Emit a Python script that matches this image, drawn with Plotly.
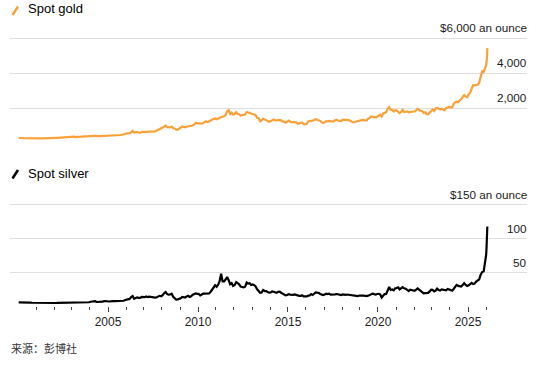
import plotly.graph_objects as go

# ---------------- data ----------------
years = list(range(2000, 2026))

gold_monthly = [
    285, 300, 287, 280, 275, 285, 282, 275, 273, 270, 266, 272,      # 2000
    266, 262, 263, 261, 272, 270, 268, 273, 283, 283, 276, 276,      # 2001
    282, 296, 294, 302, 314, 321, 313, 310, 319, 317, 319, 333,      # 2002
    357, 359, 341, 328, 355, 356, 351, 360, 379, 379, 389, 407,      # 2003
    414, 405, 406, 404, 384, 392, 398, 400, 406, 420, 439, 442,      # 2004
    424, 423, 434, 429, 422, 431, 424, 438, 456, 470, 476, 510,      # 2005
    549, 555, 557, 610, 690, 596, 633, 632, 598, 586, 627, 629,      # 2006
    631, 665, 655, 679, 667, 655, 665, 665, 712, 754, 806, 803,      # 2007
    889, 940, 990, 909, 888, 889, 939, 839, 829, 760, 760, 816,      # 2008
    858, 943, 924, 890, 928, 945, 934, 949, 996, 1043, 1150, 1134,   # 2009
    1118, 1095, 1113, 1148, 1205, 1240, 1193, 1215, 1280, 1343, 1380, 1400,  # 2010
    1360, 1374, 1424, 1490, 1510, 1529, 1600, 1820, 1880, 1665, 1739, 1620,  # 2011
    1656, 1760, 1675, 1649, 1570, 1598, 1594, 1630, 1770, 1750, 1722, 1685,  # 2012
    1671, 1627, 1593, 1440, 1414, 1250, 1300, 1380, 1349, 1316, 1275, 1210,  # 2013
    1244, 1320, 1340, 1299, 1288, 1310, 1320, 1296, 1220, 1222, 1160, 1200,  # 2014
    1280, 1227, 1179, 1198, 1199, 1182, 1100, 1130, 1125, 1170, 1070, 1060,  # 2015
    1097, 1230, 1246, 1270, 1260, 1300, 1360, 1341, 1326, 1267, 1180, 1140,  # 2016
    1192, 1250, 1231, 1266, 1246, 1260, 1236, 1300, 1330, 1280, 1283, 1255,  # 2017
    1340, 1331, 1325, 1334, 1303, 1270, 1230, 1180, 1198, 1215, 1221, 1270,  # 2018
    1291, 1320, 1300, 1280, 1284, 1390, 1420, 1520, 1500, 1495, 1465, 1500,  # 2019
    1570, 1620, 1520, 1690, 1720, 1760, 1950, 2050, 1900, 1890, 1800, 1870,  # 2020
    1860, 1750, 1710, 1770, 1900, 1770, 1810, 1810, 1750, 1780, 1790, 1800,  # 2021
    1800, 1900, 1950, 1900, 1840, 1830, 1720, 1760, 1650, 1640, 1750, 1810,  # 2022
    1920, 1830, 1970, 2000, 1960, 1920, 1960, 1910, 1870, 1990, 2030, 2060,  # 2023
    2030, 2030, 2230, 2330, 2350, 2330, 2430, 2500, 2640, 2740, 2650, 2620,  # 2024
    2780, 2880, 3100, 3300, 3290, 3310, 3330, 3440, 3820, 4100, 4080, 4250,  # 2025
]
gold_tail_dates = ["2026-01-05", "2026-01-12", "2026-01-20", "2026-01-23", "2026-01-28"]
gold_tail = [4450, 4600, 4780, 4980, 5420]

silver_monthly = [
    5.2, 5.3, 5.1, 5.0, 5.0, 5.0, 5.0, 4.9, 4.9, 4.8, 4.7, 4.6,      # 2000
    4.7, 4.5, 4.4, 4.4, 4.4, 4.4, 4.3, 4.2, 4.3, 4.3, 4.2, 4.5,      # 2001
    4.5, 4.4, 4.6, 4.6, 4.9, 4.9, 4.9, 4.6, 4.6, 4.5, 4.6, 4.7,      # 2002
    4.8, 4.7, 4.5, 4.5, 4.7, 4.5, 5.1, 5.0, 5.2, 5.0, 5.2, 5.5,      # 2003
    6.3, 6.6, 7.8, 7.0, 5.9, 5.9, 6.5, 6.7, 6.3, 7.2, 7.5, 7.0,      # 2004
    6.6, 7.1, 7.3, 7.1, 7.2, 7.3, 7.1, 7.1, 7.2, 7.5, 7.7, 8.8,      # 2005
    9.4, 9.6, 10.4, 13.0, 14.5, 10.6, 11.2, 12.7, 12.0, 11.9, 13.5, 13.2,  # 2006
    13.0, 14.1, 13.0, 13.7, 13.3, 13.4, 12.9, 12.3, 12.9, 14.0, 15.0, 14.4,  # 2007
    16.0, 19.0, 20.5, 17.4, 16.6, 17.0, 18.0, 13.5, 12.0, 9.5, 9.8, 10.5,  # 2008
    11.3, 13.4, 13.1, 12.5, 14.0, 15.0, 13.4, 14.3, 16.5, 17.2, 18.5, 17.8,  # 2009
    17.8, 15.5, 17.1, 18.1, 18.2, 18.5, 18.0, 18.4, 21.0, 24.0, 27.0, 30.5,  # 2010
    28.3, 31.5, 36.5, 47.5, 36.0, 36.0, 39.0, 42.5, 38.0, 32.0, 33.6, 29.5,  # 2011
    30.8, 35.0, 33.6, 31.9, 28.5, 28.0, 27.3, 28.5, 34.5, 33.0, 33.5, 31.0,  # 2012
    31.8, 30.5, 28.8, 24.5, 22.5, 19.5, 19.8, 23.5, 22.0, 22.0, 20.5, 19.6,  # 2013
    19.9, 21.5, 21.0, 19.8, 19.4, 20.8, 21.1, 19.5, 18.0, 17.0, 15.6, 16.2,  # 2014
    17.5, 16.8, 16.3, 16.3, 17.0, 16.0, 15.0, 14.9, 14.8, 15.8, 14.2, 13.9,  # 2015
    14.1, 15.2, 15.4, 17.5, 16.3, 18.0, 20.0, 19.6, 19.3, 17.7, 16.5, 16.0,  # 2016
    16.8, 18.0, 17.5, 18.0, 16.7, 16.8, 16.1, 17.2, 17.6, 17.1, 17.1, 16.0,  # 2017
    17.2, 16.6, 16.5, 16.9, 16.5, 16.4, 15.5, 14.6, 14.3, 14.6, 14.4, 15.4,  # 2018
    15.6, 15.8, 15.2, 15.0, 14.5, 15.2, 16.2, 18.0, 18.2, 17.5, 16.9, 17.6,  # 2019
    17.9, 17.0, 12.5, 15.1, 17.5, 17.7, 24.0, 28.0, 23.5, 24.2, 23.0, 26.0,  # 2020
    26.5, 27.5, 24.5, 26.0, 27.8, 26.0, 25.5, 23.8, 22.0, 24.0, 23.5, 23.0,  # 2021
    22.5, 24.0, 25.8, 24.0, 21.8, 21.0, 18.5, 19.0, 19.5, 19.3, 21.5, 24.0,  # 2022
    23.7, 21.5, 22.5, 25.5, 23.6, 22.8, 24.5, 24.0, 22.5, 23.0, 25.0, 24.0,  # 2023
    23.0, 22.6, 25.0, 27.5, 31.0, 29.5, 29.0, 28.5, 31.0, 33.5, 31.0, 29.5,  # 2024
    30.5, 32.2, 34.0, 32.4, 33.0, 36.0, 38.0, 39.0, 46.0, 50.0, 51.0, 64.0,  # 2025
]
silver_tail_dates = ["2026-01-05", "2026-01-12", "2026-01-20", "2026-01-23", "2026-01-28"]
silver_tail = [76, 86, 95, 104, 117]

gold_ticks = [2000, 4000, 6000]
gold_labels = ["2,000", "4,000", "$6,000 an ounce"]
silver_ticks = [50, 100, 150]
silver_labels = ["50", "100", "$150 an ounce"]

major_years = [2005, 2010, 2015, 2020, 2025]
minor_years = list(range(2001, 2027))

source_text = "来源：彭博社"
gold_title = "Spot gold"
silver_title = "Spot silver"

# ---------------- build ----------------
month_dates = [f"{y}-{m:02d}-15" for y in years for m in range(1, 13)]
gold_x = month_dates + gold_tail_dates
gold_y = gold_monthly + gold_tail
silver_x = month_dates + silver_tail_dates
silver_y = silver_monthly + silver_tail

W, H = 554, 365
L, R = 10, 527
GOLD_COLOR = "#fba137"
GRID = "#dedede"
FONT = "Liberation Sans, Arial, sans-serif"


def py(pix):
    return (H - pix) / H


def px(pix):
    return (pix - L) / (R - L)


fig = go.Figure()
fig.add_trace(go.Scatter(x=gold_x, y=gold_y, mode="lines", xaxis="x2", yaxis="y2",
                         line=dict(color=GOLD_COLOR, width=2.2), hoverinfo="skip", showlegend=False))
fig.add_trace(go.Scatter(x=silver_x, y=silver_y, mode="lines", xaxis="x", yaxis="y",
                         line=dict(color="#000000", width=2.2), hoverinfo="skip", showlegend=False))

xrange = ["1999-07-23", "2028-04-12"]

# gold: 0 at pixel 143, 6000 at pixel 38; headroom to 6060 so the top gridline shows
g_top_val = 6060
g_top_pix = 143 - g_top_val * (143 - 38) / 6000
# silver: 0 at pixel 306, 150 at pixel 204; headroom to 152
s_top_val = 152
s_top_pix = 306 - s_top_val * (306 - 204) / 150

fig.update_layout(
    width=W, height=H,
    margin=dict(l=L, r=W - R, t=0, b=0, autoexpand=False),
    paper_bgcolor="white", plot_bgcolor="white",
    font=dict(family=FONT, size=12, color="#222"),
    showlegend=False,
    xaxis=dict(
        type="date", range=xrange, domain=[0, 1], anchor="y",
        tickmode="array",
        tickvals=[f"{y}-01-01" for y in major_years],
        ticktext=[str(y) for y in major_years],
        ticks="outside", ticklen=5, tickwidth=1, tickcolor="#444",
        showgrid=False, zeroline=False, showline=False,
        tickfont=dict(size=12, color="#222", family=FONT),
        minor=dict(tickmode="array", tickvals=[f"{y}-01-01" for y in minor_years],
                   ticks="outside", ticklen=3, tickwidth=1, tickcolor="#444", showgrid=False),
        fixedrange=True,
    ),
    yaxis=dict(
        domain=[py(306), py(s_top_pix)], range=[0, s_top_val], anchor="x",
        tickmode="array", tickvals=silver_ticks, showticklabels=False,
        showgrid=True, gridcolor=GRID, gridwidth=1.2, zeroline=False, showline=False,
        ticks="", fixedrange=True,
    ),
    xaxis2=dict(
        type="date", range=xrange, domain=[0, 1], anchor="y2", matches="x",
        showticklabels=False, ticks="", showgrid=False, zeroline=False, showline=False,
        fixedrange=True,
    ),
    yaxis2=dict(
        domain=[py(143), py(g_top_pix)], range=[0, g_top_val], anchor="x2",
        tickmode="array", tickvals=gold_ticks, showticklabels=False,
        showgrid=True, gridcolor=GRID, gridwidth=1.2, zeroline=False, showline=False,
        ticks="", fixedrange=True,
    ),
)

annotations = []
for v, t in zip(gold_ticks, gold_labels):
    annotations.append(dict(x=1, xref="paper", y=v, yref="y2", text=t, showarrow=False,
                            xanchor="right", yanchor="middle", yshift=10, xshift=2,
                            font=dict(size=11.7, color="#1a1a1a", family=FONT)))
for v, t in zip(silver_ticks, silver_labels):
    annotations.append(dict(x=1, xref="paper", y=v, yref="y", text=t, showarrow=False,
                            xanchor="right", yanchor="middle", yshift=10, xshift=2,
                            font=dict(size=11.7, color="#1a1a1a", family=FONT)))

annotations.append(dict(x=px(28), xref="paper", y=py(8), yref="paper", text=gold_title,
                        showarrow=False, xanchor="left", yanchor="middle", xshift=-2,
                        font=dict(size=13, color="#000", family=FONT)))
annotations.append(dict(x=px(28), xref="paper", y=py(173), yref="paper", text=silver_title,
                        showarrow=False, xanchor="left", yanchor="middle", xshift=-2,
                        font=dict(size=13, color="#000", family=FONT)))
annotations.append(dict(x=px(10), xref="paper", y=py(348), yref="paper", text=source_text,
                        showarrow=False, xanchor="left", yanchor="middle", xshift=-1,
                        font=dict(size=11, color="#333", family="Noto Sans CJK SC")))
fig.update_layout(annotations=annotations)

fig.add_shape(type="line", xref="paper", yref="paper",
              x0=px(12.5), y0=py(15), x1=px(18), y1=py(6.5),
              line=dict(color=GOLD_COLOR, width=2.5))
fig.add_shape(type="line", xref="paper", yref="paper",
              x0=px(12.5), y0=py(178.5), x1=px(18), y1=py(170),
              line=dict(color="#000000", width=2.5))

fig.write_html("out.html", config={"displayModeBar": False},
               post_script="document.body.style.margin='0';document.body.style.padding='0';")
